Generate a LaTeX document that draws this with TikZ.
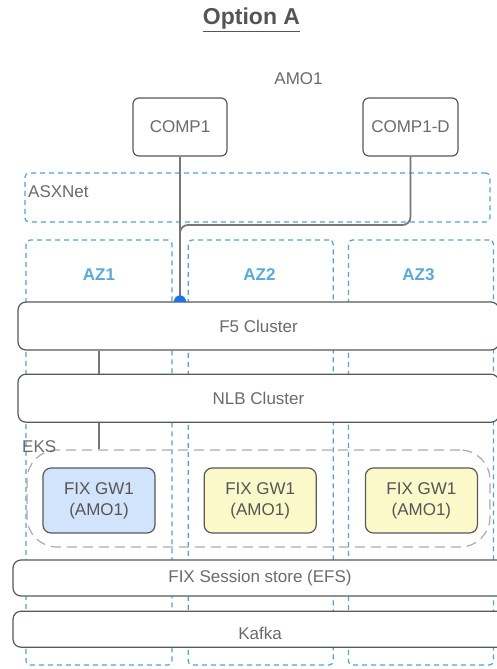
\documentclass[tikz,border=0pt]{standalone}
\usepackage{fontspec}
\setmainfont{Liberation Sans}
\usetikzlibrary{
  positioning,
  calc
}
\definecolor{opLine}{HTML}{595959}
\definecolor{opText}{HTML}{6B6B6B}
\definecolor{opTitle}{HTML}{555555}
\definecolor{opZone}{HTML}{4FA3D9}
\definecolor{opAZ}{HTML}{5AA9DC}
\definecolor{opEKS}{HTML}{ABABAB}
\definecolor{opGWblue}{HTML}{D2E4FB}
\definecolor{opGWyellow}{HTML}{FBF9CA}
\definecolor{opDot}{HTML}{1A73E8}
\definecolor{opLink}{HTML}{777777}
\tikzset{
  opnode/.style={
    draw=opLine, line width=1.2pt, rounded corners=6pt, fill=white, inner sep=0pt,
    font=\fontsize{17}{21}\selectfont, text=opText, align=center
  },
  compbox/.style={opnode, minimum width=94pt, minimum height=58pt},
  band/.style={opnode, rounded corners=8pt, minimum width=481pt, minimum height=48pt},
  storeband/.style={opnode, rounded corners=8pt, minimum width=494pt, minimum height=36pt},
  gwbox/.style={opnode, rounded corners=8pt, minimum width=112pt, minimum height=65pt, text=opTitle},
  zone/.style={draw=opZone, line width=1.2pt, dash pattern=on 5pt off 4pt, rounded corners=4pt, inner sep=0pt},
  azbox/.style={zone, minimum width=145pt, minimum height=425pt},
  eksbox/.style={
    draw=opEKS, line width=1.2pt, dash pattern=on 10pt off 6pt, rounded corners=30pt,
    minimum width=463pt, minimum height=97pt, inner sep=0pt
  },
  tag/.style={font=\fontsize{17}{21}\selectfont, text=opText, inner sep=0pt},
  aztag/.style={tag, text=opAZ, font=\fontsize{17}{21}\selectfont\bfseries},
  link/.style={draw=opLink, line width=1.8pt}
}

\begin{document}
\begin{tikzpicture}[x=1pt, y=-1pt]
  \clip (0,0) rectangle (497,669);
  \fill[white] (0,0) rectangle (497,669);

  \node[font=\fontsize{23}{27}\selectfont\bfseries, text=opTitle] (title) at (251.5,20) {\underline{Option A}};
  \node[tag] (amo) at (298.5,79) {AMO1};

  \node[compbox] (comp1) at (180,127) {COMP1};
  \node[compbox, minimum width=95pt] (comp1d) at (410.5,127) {COMP1-D};

  \node[zone, minimum width=465pt, minimum height=49pt] (asx) at (257.5,197.5) {};
  \node[tag, anchor=west] (asxtag) at (28,192) {ASXNet};

  \node[azbox, minimum width=146pt] (az1) at (99,452.5) {};
  \node[azbox, right=15pt of az1] (az2) {};
  \node[azbox, right=14pt of az2] (az3) {};
  \node[aztag] (az1tag) at (99,275) {AZ1};
  \node[aztag] (az2tag) at (259.5,275) {AZ2};
  \node[aztag] (az3tag) at (418.5,275) {AZ3};

  \coordinate (bend) at (180,225);
  \draw[link] (comp1.south) -- (comp1.south |- 0,302);
  \draw[link, rounded corners=8pt] (comp1d.south) |- (bend) -- (bend |- 0,302);

  \node[band] (f5) at (258.5,326) {F5 Cluster};
  \node[band, below=23pt of f5] (nlb) {NLB Cluster};
  \begin{scope}
    \clip (comp1.south |- f5.north) ++(-8,-8) rectangle ++(16,8);
    \fill[opDot] (comp1.south |- f5.north) circle[radius=6];
  \end{scope}

  \node[eksbox] (eks) at (258.5,498.5) {};
  \node[tag, anchor=west] (ekstag) at (22,447) {EKS};
  \draw[link] (f5.south -| az1.center) -- (nlb.north -| az1.center);
  \draw[link] (nlb.south -| az1.center) -- (eks.north -| az1.center);

  \node[gwbox, fill=opGWblue] (gw1) at (99,500.5) {FIX GW1\\(AMO1)};
  \node[gwbox, fill=opGWyellow, right=48pt of gw1] (gw2) {FIX GW1\\(AMO1)};
  \node[gwbox, fill=opGWyellow, right=48pt of gw2] (gw3) {FIX GW1\\(AMO1)};

  \node[storeband] (efs) at (260,578) {FIX Session store (EFS)};
  \node[storeband, below=14pt of efs, text height=20pt, text depth=0pt] (kafka) {Kafka};
\end{tikzpicture}
\end{document}
